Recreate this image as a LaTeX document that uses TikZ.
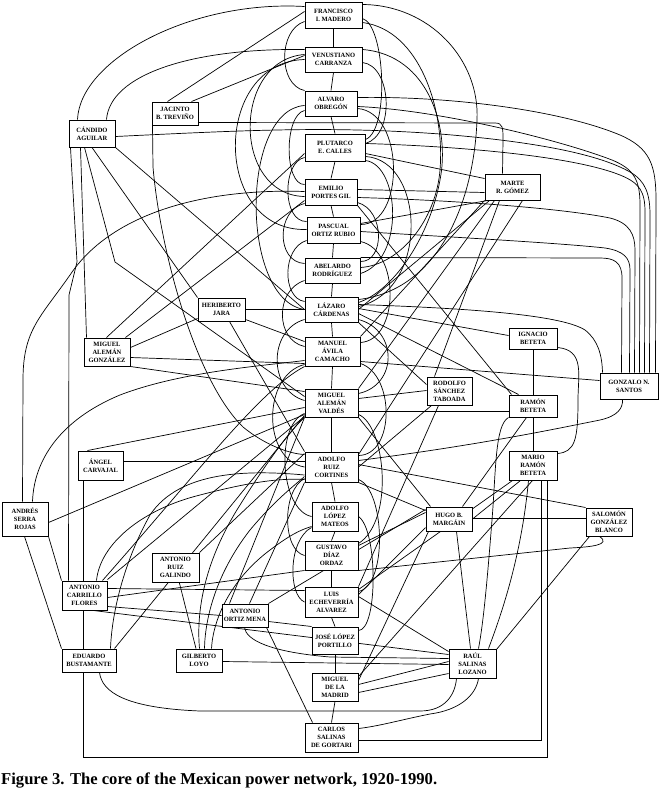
\documentclass[tikz,border=0pt]{standalone}
\usepackage{fontspec}
\setmainfont{Liberation Serif}
\usetikzlibrary{calc,backgrounds}
\begin{document}
\begin{tikzpicture}[x=1pt,y=-1pt,
  box/.style={draw,line width=1pt,fill=white,inner sep=0pt,align=center,font=\fontsize{6.5}{8}\selectfont\bfseries},
  e/.style={line width=0.7pt}]
\useasboundingbox (0,0) rectangle (660,790);
% ---- centre column
\node[box,minimum width=57pt,minimum height=26pt] (mad) at (333.5,15) {FRANCISCO\\I. MADERO};
\node[box,minimum width=57pt,minimum height=25pt] (car) at (333.5,59.5) {VENUSTIANO\\CARRANZA};
\node[box,minimum width=52pt,minimum height=25pt] (obr) at (331,103.5) {ALVARO\\OBREGÓN};
\node[box,minimum width=60pt,minimum height=27pt] (cal) at (335,147.5) {PLUTARCO\\E. CALLES};
\node[box,minimum width=52pt,minimum height=26pt] (pg) at (331,192) {EMILIO\\PORTES GIL};
\node[box,minimum width=53pt,minimum height=26pt] (por) at (333.5,230) {PASCUAL\\ORTIZ RUBIO};
\node[box,minimum width=55pt,minimum height=25pt] (rod) at (332.5,270.5) {ABELARDO\\RODRÍGUEZ};
\node[box,minimum width=53pt,minimum height=25pt] (cdn) at (331.5,309.5) {LÁZARO\\CÁRDENAS};
\node[box,minimum width=55pt,minimum height=29pt] (avc) at (332.5,351.5) {MANUEL\\ÁVILA\\CAMACHO};
\node[box,minimum width=53pt,minimum height=28pt] (amv) at (331.5,403) {MIGUEL\\ALEMÁN\\VALDÉS};
\node[box,minimum width=53pt,minimum height=30pt] (rco) at (331.5,467) {ADOLFO\\RUIZ\\CORTINES};
\node[box,minimum width=46pt,minimum height=29pt] (lma) at (335,516.5) {ADOLFO\\LÓPEZ\\MATEOS};
\node[box,minimum width=53pt,minimum height=29pt] (dor) at (331.5,555.5) {GUSTAVO\\DÍAZ\\ORDAZ};
\node[box,minimum width=53pt,minimum height=30pt] (ech) at (331.5,602) {LUIS\\ECHEVERRÍA\\ALVAREZ};
\node[box,minimum width=46pt,minimum height=27pt] (jlp) at (335,640.5) {JOSÉ LÓPEZ\\PORTILLO};
\node[box,minimum width=46pt,minimum height=28pt] (mdm) at (335,687) {MIGUEL\\DE LA\\MADRID};
\node[box,minimum width=53pt,minimum height=29pt] (csg) at (331.5,737.5) {CARLOS\\SALINAS\\DE GORTARI};
% ---- others
\node[box,minimum width=46pt,minimum height=23pt] (tre) at (175,113.5) {JACINTO\\B. TREVIÑO};
\node[box,minimum width=46pt,minimum height=27pt] (agu) at (92,133.5) {CÁNDIDO\\AGUILAR};
\node[box,minimum width=55pt,minimum height=26pt] (mrg) at (512.5,187) {MARTE\\R. GÓMEZ};
\node[box,minimum width=47pt,minimum height=23pt] (jar) at (221.5,309.5) {HERIBERTO\\JARA};
\node[box,minimum width=46pt,minimum height=28pt] (amg) at (107,352) {MIGUEL\\ALEMÁN\\GONZÁLEZ};
\node[box,minimum width=48pt,minimum height=21pt] (ibe) at (533,338.5) {IGNACIO\\BETETA};
\node[box,minimum width=58pt,minimum height=26pt] (gns) at (629,386) {GONZALO N.\\SANTOS};
\node[box,minimum width=45pt,minimum height=28pt] (rst) at (449.5,391) {RODOLFO\\SÁNCHEZ\\TABOADA};
\node[box,minimum width=48pt,minimum height=22pt] (rbe) at (533,406) {RAMÓN\\BETETA};
\node[box,minimum width=48pt,minimum height=29pt] (mrb) at (533,465.5) {MARIO\\RAMÓN\\BETETA};
\node[box,minimum width=45pt,minimum height=29pt] (aca) at (100.5,465.5) {ÁNGEL\\CARVAJAL};
\node[box,minimum width=46pt,minimum height=34pt] (asr) at (25,519) {ANDRÉS\\SERRA\\ROJAS};
\node[box,minimum width=46pt,minimum height=24pt] (hbm) at (449,519) {HUGO B.\\MARGÁIN};
\node[box,minimum width=46pt,minimum height=28pt] (sgb) at (609,522) {SALOMÓN\\GONZÁLEZ\\BLANCO};
\node[box,minimum width=47pt,minimum height=29pt] (arg) at (175.5,567.5) {ANTONIO\\RUIZ\\GALINDO};
\node[box,minimum width=45pt,minimum height=29pt] (acf) at (84.5,595.5) {ANTONIO\\CARRILLO\\FLORES};
\node[box,minimum width=46pt,minimum height=23pt] (aom) at (245,615.5) {ANTONIO\\ORTIZ MENA};
\node[box,minimum width=54pt,minimum height=23pt] (ebu) at (89,660.5) {EDUARDO\\BUSTAMANTE};
\node[box,minimum width=46pt,minimum height=23pt] (glo) at (199,660.5) {GILBERTO\\LOYO};
\node[box,minimum width=47pt,minimum height=29pt] (rsl) at (472.5,663.5) {RAÚL\\SALINAS\\LOZANO};
\node[anchor=base west,inner sep=0pt,font=\fontsize{16.6}{18}\selectfont\bfseries] (cap) at (1,784) {Figure 3. The core of the Mexican power network, 1920-1990.};

\begin{scope}[on background layer]
\fill[white] (0,0) rectangle (660,790);
% chain of succession
\foreach \a/\b in {mad/car,car/obr,obr/cal,cal/pg,pg/por,por/rod,rod/cdn,cdn/avc,avc/amv,amv/rco,rco/lma,lma/dor,dor/ech,ech/jlp,jlp/mdm,mdm/csg}
  \draw[e] (\a.south) -- (\b.north);
% top left
\draw[e] ($(agu.north west)+(9,0)$) .. controls (80,60) and (190,0) .. ($(mad.north west)+(0,5)$);
\draw[e] ($(agu.north west)+(38,0)$) .. controls (110,75) and (190,48) .. ($(car.north west)+(0,3)$);
\draw[e] ($(tre.north west)+(16,0)$) -- ($(mad.north west)+(0,10)$);
\draw[e] ($(tre.north west)+(40,0)$) -- ($(car.north west)+(0,9)$);
\draw[e] ($(tre.north east)+(0,21)$) -- (495,123) .. controls (503,123) and (503,128) .. (503,140) -- ($(mrg.north west)+(18,0)$);
% lines to Gonzalo N. Santos
\draw[e] ($(agu.north east)+(0,17)$) .. controls (250,130) and (330,126) .. (440,134) .. controls (540,142) and (600,155) .. (630,172) .. controls (646,181) and (650,195) .. (650,215) -- ($(gns.north west)+(50,0)$);
\draw[e] ($(obr.north east)+(0,7)$) .. controls (450,96) and (560,110) .. (620,135) .. controls (650,148) and (656,165) .. (656,200) -- ($(gns.north west)+(56,0)$);
\draw[e] ($(obr.north east)+(0,16)$) .. controls (440,110) and (560,140) .. (612,160) .. controls (634,169) and (640,180) .. (640,205) -- ($(gns.north west)+(40,0)$);
\draw[e] ($(cal.north east)+(0,10)$) .. controls (450,146) and (570,155) .. (620,175) .. controls (640,183) and (645,192) .. (645,212) -- ($(gns.north west)+(45,0)$);
\draw[e] ($(pg.north east)+(0,19)$) .. controls (450,200) and (560,208) .. (610,218) .. controls (630,223) and (635,235) .. (635,250) -- ($(gns.north west)+(35,0)$);
\draw[e] ($(por.north east)+(0,15)$) .. controls (450,237) and (560,243) .. (605,248) .. controls (624,251) and (630,258) .. (630,270) -- ($(gns.north west)+(30,0)$);
\draw[e] (rod.north east) -- (600,258) .. controls (614,258) and (622,262) .. (622,278) -- ($(gns.north west)+(22,0)$);
\draw[e] ($(cdn.north east)+(0,8)$) .. controls (460,308) and (560,314) .. (585,330) .. controls (598,340) and (602,355) .. ($(gns.north west)+(3,0)$);
\draw[e] ($(avc.north east)+(0,25)$) -- ($(gns.north west)+(0,8)$);
\draw[e] ($(rco.north east)+(0,9)$) .. controls (480,445) and (560,428) .. (600,420) .. controls (618,416) and (623,408) .. ($(gns.south west)+(23,0)$);
% Marte R. Gomez
\draw[e] ($(cal.north east)+(0,20)$) -- ($(mrg.north west)+(0,5)$);
\draw[e] ($(pg.north east)+(0,11)$) -- ($(mrg.north west)+(0,19)$);
\draw[e] ($(por.north east)+(0,7)$) -- ($(mrg.south west)+(3,0)$);
\draw[e] (mrg.south west) -- (avc.north east);
\draw[e] ($(mrg.south west)+(5,0)$) -- (cdn.east);
\draw[e] ($(mrg.south west)+(10,0)$) -- (amv.north east);
\draw[e] ($(mrg.south west)+(15,0)$) -- ($(rst.north west)+(8,0)$);
\draw[e] ($(mrg.south west)+(38,0)$) -- ($(rco.north east)+(0,3)$);
% Betetas
\draw[e] ($(cdn.north east)+(0,12)$) -- ($(ibe.north west)+(0,8)$);
\draw[e] ($(cdn.north east)+(0,17)$) -- ($(rbe.north west)+(10,0)$);
\draw[e] (cdn.south east) -- ($(rst.north west)+(0,8)$);
\draw[e] (ibe) -- (rbe);
\draw[e] (rbe) -- (mrb);
\draw[e] ($(ibe.south east)+(0,-2)$) .. controls (585,350) and (578,375) .. (578,400) .. controls (578,440) and (575,452) .. ($(mrb.north east)+(0,3)$);
\draw[e] ($(amv.north east)+(0,10)$) -- ($(rst.north west)+(0,14)$);
\draw[e] ($(amv.north east)+(0,23)$) -- ($(rbe.north west)+(0,17)$);
\draw[e] (pg.south east) -- ($(rbe.north west)+(3,0)$);
\draw[e] ($(rst.south west)+(5,0)$) -- (rco.east);
\draw[e] ($(rst.south west)+(12,0)$) -- (ech.north east);
\draw[e] ($(rbe.south west)+(18,0)$) -- ($(hbm.north east)+(-10,0)$);
\draw[e] (rbe.south west) .. controls (495,425) and (496,470) .. (492,520) .. controls (488,570) and (484,620) .. ($(rsl.north west)+(30,0)$);
\draw[e] ($(mrb.south west)+(12,0)$) -- (hbm.east);
\draw[e] ($(mrb.south east)+(-16,0)$) |- ($(csg.east)+(0,3)$);
\draw[e] ($(aca.south west)+(6,0)$) -- ++(0,277) -| ($(mrb.south east)+(-10,0)$);
\draw[e] ($(rsl.north east)+(-8,0)$) .. controls (505,605) and (522,550) .. ($(mrb.south west)+(20,0)$);
\draw[e] ($(mrb.south west)+(4,0)$) -- ($(ech.north east)+(0,3)$);
\draw[e] ($(mrb.south west)+(24,0)$) -- ($(mdm.north east)+(0,4)$);
% Hugo B. Margain, Salomon Gonzalez Blanco
\draw[e] ($(hbm.north east)+(0,12)$) -- ($(sgb.north west)+(0,11)$);
\draw[e] ($(rco.north east)+(0,13)$) -- (sgb.north west);
\draw[e] (rco.south east) -- ($(hbm.north west)+(0,4)$);
\draw[e] ($(hbm.south west)+(31,0)$) -- ($(rsl.north west)+(22,0)$);
\draw[e] ($(hbm.north west)+(0,6)$) -- ($(dor.north east)+(0,5)$);
\draw[e] ($(hbm.south west)+(0,-4)$) -- ($(ech.north east)+(0,8)$);
\draw[e] ($(hbm.south west)+(3,0)$) -- ($(mdm.north east)+(0,8)$);
\draw[e] (amv.south east) -- ($(hbm.north west)+(5,0)$);
\draw[e] ($(sgb.south west)+(4,0)$) -- ($(rsl.north east)+(0,1)$);
\draw[e] ($(sgb.south west)+(14,0)$) .. controls (612,545) and (590,547) .. (570,548) -- (dor.south east);
% Raul Salinas Lozano
\draw[e] ($(ech.north east)+(0,10)$) -- ($(rsl.north west)+(0,3)$);
\draw[e] ($(mdm.north east)+(0,20)$) -- ($(rsl.south west)+(0,-5)$);
\draw[e] ($(mdm.north east)+(0,12)$) -- ($(rsl.north west)+(0,13)$);
\draw[e] ($(ebu.south west)+(38,0)$) .. controls (102,692) and (125,708) .. (200,711) -- (420,711) .. controls (445,711) and (455,695) .. ($(rsl.south west)+(8,0)$);
\draw[e] ($(rsl.south east)+(-18,0)$) .. controls (476,695) and (460,710) .. (430,714) .. controls (400,720) and (380,726) .. ($(csg.north east)+(0,6)$);
\draw[e] ($(aom.south west)+(23,0)$) .. controls (246,640) and (270,652) .. (330,657) -- ($(rsl.north west)+(0,10)$);
\draw[e] ($(glo.north east)+(0,13)$) -- ($(rsl.north west)+(0,16)$);
\draw[e] ($(acf.south east)+(-14,0)$) -- ($(rsl.north west)+(0,6)$);
% Antonio Ortiz Mena
\draw[e] ($(aom.north east)+(0,18)$) -- (jlp.north west);
\draw[e] ($(aom.south east)+(-2,0)$) -- ($(csg.north west)+(8,0)$);
\draw[e] (aom.north east) -- ($(hbm.north west)+(0,3)$);
\draw[e] ($(aom.north west)+(8,0)$) -- (amv.south west);
\draw[e] ($(aom.north west)+(28,0)$) -- (rco.south west);
% Carrillo Flores, Bustamante, Serra Rojas, Carvajal
\draw[e] ($(acf.north east)+(0,17)$) -- (dor.south west);
\draw[e] ($(acf.north east)+(0,26)$) -- (aom.west);
\draw[e] ($(acf.north east)+(0,8)$) -- ($(ech.north west)+(0,4)$);
\draw[e] ($(acf.north east)+(0,-1)$) -- ($(amv.south west)+(0,-1)$);
\draw[e] ($(acf.north west)+(35,0)$) .. controls (100,545) and (140,510) .. (200,495) .. controls (250,482) and (280,478) .. ($(rco.south west)+(0,-3)$);
\draw[e] ($(ebu.north east)+(-2,0)$) -- ($(amv.south west)+(0,-2)$);
\draw[e] ($(ebu.north east)+(-6,0)$) .. controls (112,610) and (125,560) .. (150,515) .. controls (180,470) and (250,470) .. ($(rco.west)+(0,8)$);
\draw[e] ($(asr.south west)+(23,0)$) -- (ebu.north west);
\draw[e] (asr.south east) -- (acf.north west);
\draw[e] ($(asr.north east)+(0,21)$) -- ($(amv.south west)+(0,-3)$);
\draw[e] ($(aca.north east)+(0,11)$) -- ($(rco.north west)+(0,10)$);
\draw[e] ($(aca.north west)+(10,0)$) -- ($(amv.south west)+(0,-10)$);
\draw[e] (avc.south west) .. controls (260,390) and (200,470) .. ($(acf.north east)+(-5,0)$);
% Aguilar, Trevino, Jara, Aleman Gonzalez
\draw[e] ($(agu.south west)+(2,0)$) -- (77,262) -- (69,295) -- ($(acf.north west)+(7,0)$);
\draw[e] ($(agu.south west)+(12,0)$) -- ($(amg.north west)+(3,0)$);
\draw[e] ($(agu.south west)+(16,0)$) -- (115,262) -- ($(amv.north west)+(0,8)$);
\draw[e] (agu.south) -- (jar.north west);
\draw[e] (agu.south east) -- (cdn.west);
\draw[e] ($(tre.south west)+(1,0)$) -- (153,167) .. controls (160,250) and (195,380) .. (243,427) .. controls (265,445) and (290,454) .. ($(rco.north west)+(0,3)$);
\draw[e] (jar.east) -- (cdn.west);
\draw[e] ($(jar.south east)+(0,-2)$) -- ($(avc.north west)+(0,5)$);
\draw[e] ($(jar.south west)+(32,0)$) -- (rco.north west);
\draw[e] ($(jar.south west)+(0,-3)$) -- ($(amg.north east)+(0,10)$);
\draw[e] ($(cal.south west)+(0,-8)$) -- ($(amg.north west)+(23,0)$);
\draw[e] ($(pg.south west)+(0,-5)$) -- ($(amg.north east)+(-5,0)$);
\draw[e] (amg.south east) -- ($(amv.north west)+(0,3)$);
\draw[e] ($(amg.north east)+(0,20)$) -- ($(avc.south west)+(0,-3)$);
% long arcs to Serra Rojas
\draw[e] ($(pg.north west)+(0,13)$) .. controls (200,188) and (110,215) .. (70,275) .. controls (40,318) and (23,330) .. (23,380) -- ($(asr.north west)+(21,0)$);
\draw[e] ($(asr.north east)+(-16,0)$) .. controls (34,460) and (60,420) .. (120,395) .. controls (180,372) and (260,366) .. ($(avc.south west)+(0,-6)$);
% Ruiz Galindo, Loyo
\draw[e] (arg) -- (glo);
\draw[e] (arg.north east) -- ($(rco.north west)+(0,2)$);
\draw[e] ($(glo.north west)+(24,0)$) .. controls (196,610) and (205,560) .. (240,505) .. controls (265,465) and (290,430) .. (amv.south west);
\draw[e] ($(glo.north west)+(29,0)$) .. controls (205,620) and (215,575) .. (250,530) .. controls (275,500) and (295,485) .. ($(rco.south west)+(0,-6)$);
\draw[e] ($(glo.north west)+(36,0)$) .. controls (213,620) and (230,580) .. (270,550) .. controls (290,535) and (300,530) .. ($(lma.south west)+(0,-5)$);
% arcs left of the column
\draw[e] ($(mad.south west)+(0,-7)$) .. controls (278,30) and (278,85) .. (obr.north west);
\draw[e] ($(car.north west)+(0,8)$) .. controls (232,60) and (232,195) .. ($(pg.north west)+(0,18)$);
\draw[e] ($(car.north west)+(0,13)$) .. controls (212,62) and (212,232) .. ($(por.north west)+(0,13)$);
\draw[e] ($(obr.north west)+(0,20)$) .. controls (284,115) and (284,185) .. ($(pg.north west)+(0,6)$);
\draw[e] ($(obr.north west)+(0,15)$) .. controls (240,110) and (240,300) .. (cdn.west);
\draw[e] ($(cal.south west)+(0,-4)$) .. controls (282,162) and (282,222) .. ($(por.north west)+(0,5)$);
\draw[e] ($(pg.south west)+(0,-2)$) .. controls (276,210) and (276,262) .. ($(rod.north west)+(0,6)$);
\draw[e] ($(por.south west)+(0,-3)$) .. controls (282,248) and (282,298) .. ($(cdn.north west)+(0,5)$);
\draw[e] ($(rod.south west)+(0,-3)$) .. controls (275,290) and (275,340) .. ($(avc.north west)+(0,10)$);
\draw[e] ($(cdn.south west)+(0,-3)$) .. controls (268,330) and (268,390) .. ($(amv.north west)+(0,12)$);
\draw[e] ($(avc.south west)+(0,-2)$) .. controls (262,375) and (262,460) .. (rco.west);
\draw[e] ($(amv.south west)+(0,-4)$) .. controls (275,425) and (280,510) .. (lma.west);
\draw[e] ($(rco.south west)+(0,-4)$) .. controls (282,490) and (282,550) .. (dor.west);
\draw[e] ($(lma.south west)+(0,-4)$) .. controls (288,540) and (288,595) .. (ech.west);
% arcs right of the column
\draw[e] ($(mad.north east)+(0,17)$) .. controls (385,25) and (390,130) .. ($(cal.north east)+(0,6)$);
\draw[e] ($(mad.north east)+(0,21)$) .. controls (420,30) and (445,110) .. (440,170) .. controls (436,220) and (400,265) .. ($(rod.north east)+(0,10)$);
\draw[e] ($(mad.north east)+(0,3)$) .. controls (430,5) and (480,60) .. (477,120) .. controls (474,200) and (440,290) .. ($(cdn.north east)+(0,3)$);
\draw[e] ($(car.north east)+(0,16)$) .. controls (392,66) and (395,135) .. ($(cal.north east)+(0,10)$);
\draw[e] ($(car.north east)+(0,3)$) .. controls (430,55) and (450,130) .. (440,180) .. controls (430,235) and (395,290) .. ($(cdn.north east)+(0,6)$);
\draw[e] ($(obr.north east)+(0,18)$) .. controls (405,112) and (405,225) .. ($(por.north east)+(0,8)$);
\draw[e] ($(cal.south east)+(0,-5)$) .. controls (425,160) and (430,290) .. ($(cdn.north east)+(0,10)$);
\draw[e] ($(cal.south east)+(0,-1)$) .. controls (400,165) and (405,260) .. ($(rod.north east)+(0,16)$);
\draw[e] ($(pg.south east)+(0,-3)$) .. controls (385,210) and (385,262) .. ($(rod.north east)+(0,4)$);
\draw[e] ($(por.south east)+(0,-2)$) .. controls (400,250) and (400,340) .. ($(avc.north east)+(0,6)$);
\draw[e] ($(cdn.south east)+(0,-3)$) .. controls (398,330) and (398,385) .. ($(amv.north east)+(0,5)$);
\draw[e] ($(avc.south east)+(0,-3)$) .. controls (395,375) and (395,455) .. ($(rco.north east)+(0,4)$);
\draw[e] ($(amv.south east)+(0,-3)$) .. controls (385,425) and (395,520) .. ($(dor.north east)+(0,3)$);
\draw[e] ($(rco.south east)+(0,-3)$) .. controls (385,490) and (388,585) .. ($(ech.north east)+(0,5)$);
\draw[e] (lma.east) .. controls (378,530) and (378,630) .. ($(jlp.north east)+(0,4)$);
\end{scope}
\end{tikzpicture}
\end{document}
